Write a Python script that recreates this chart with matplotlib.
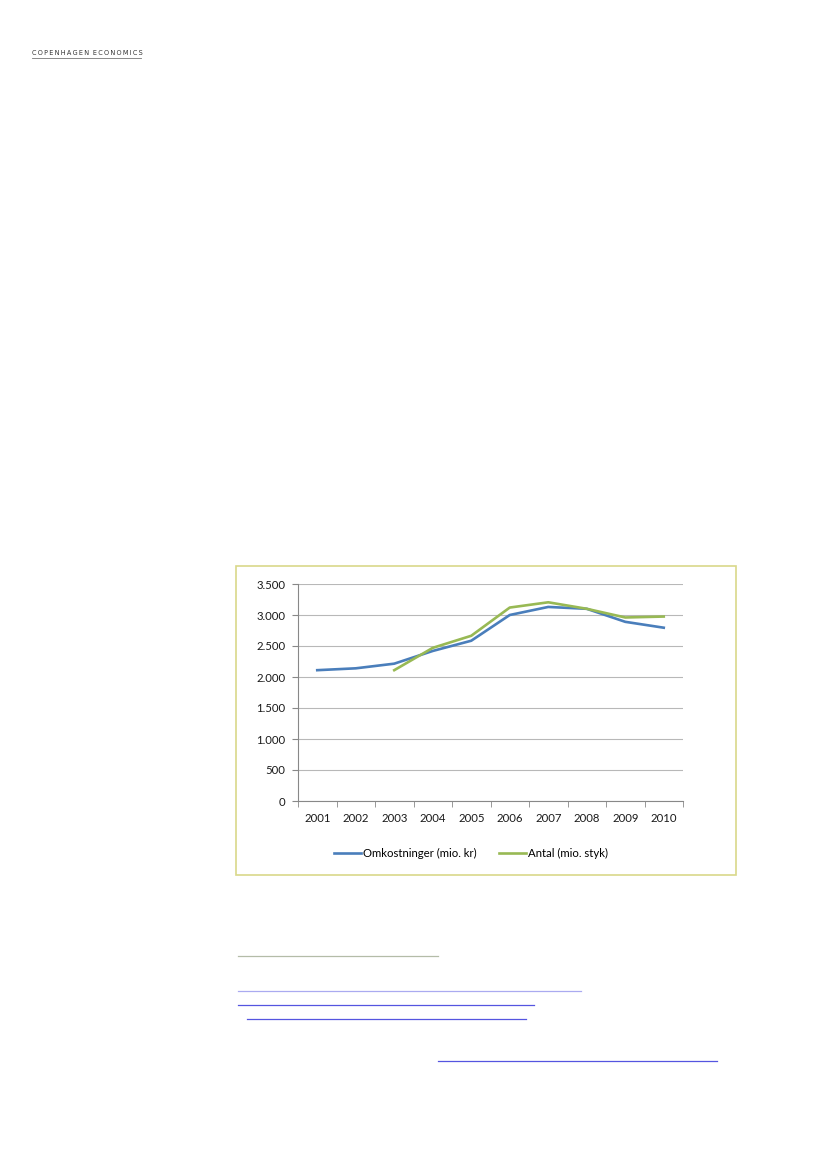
import matplotlib
matplotlib.use('Agg')
import matplotlib.pyplot as plt
from matplotlib.lines import Line2D
from matplotlib.patches import Rectangle

# data
years = ['2001', '2002', '2003', '2004', '2005', '2006', '2007', '2008', '2009', '2010']
omkostninger = [2110, 2140, 2215, 2420, 2585, 3000, 3130, 3100, 2890, 2795]
antal_years = ['2003', '2004', '2005', '2006', '2007', '2008', '2009', '2010']
antal = [2110, 2470, 2665, 3120, 3205, 3100, 2960, 2975]
yticks = [0, 500, 1000, 1500, 2000, 2500, 3000, 3500]

plt.rcParams['font.family'] = ['Lato', 'DejaVu Sans']

W, H = 827, 1169
fig = plt.figure(figsize=(W / 100, H / 100), dpi=100)

def fx(px):
    return px / W

def fy(py):
    return 1 - py / H

# page header (letter-spaced with thin spaces)
header = '\u2009'.join('COPENHAGEN') + '\u2009\u2009\u2009' + '\u2009'.join('ECONOMICS')
fig.text(fx(87), fy(53), header, fontsize=4.7,
         color='#333333', va='center', ha='center', family='DejaVu Sans')
fig.add_artist(Line2D([fx(32), fx(141)], [fy(58), fy(58)], color='#777777', lw=0.6))

# yellow frame around the chart
fig.add_artist(Rectangle((fx(236), fy(875)), fx(736) - fx(236), fy(566) - fy(875),
                         transform=fig.transFigure, fill=False, ec='#d9d88a', lw=1.2))

ax = fig.add_axes([fx(298), fy(801), fx(683) - fx(298), fy(584) - fy(801)])
xpos = list(range(len(years)))
apos = [years.index(y) for y in antal_years]

ax.plot(xpos, omkostninger, color='#4a7ebb', lw=1.9, solid_joinstyle='round')
ax.plot(apos, antal, color='#98b954', lw=1.9, solid_joinstyle='round')

ax.set_xlim(-0.5, len(years) - 0.5)
ax.set_ylim(0, 3500)
ax.set_yticks(yticks)
ax.set_yticklabels([f'{v:,}'.replace(',', '.') for v in yticks], fontsize=8.2, color='#1a1a1a')
ax.set_xticks(xpos)
ax.set_xticklabels(years, fontsize=8.2, color='#1a1a1a')
ax.set_xticks([i - 0.5 for i in range(len(years) + 1)], minor=True)
ax.tick_params(axis='x', which='major', length=0, pad=9)
ax.tick_params(axis='x', which='minor', length=4, color='#888888', direction='out')
ax.tick_params(axis='y', length=4, color='#888888', pad=5)
ax.grid(axis='y', color='#b8b8b8', lw=0.8)
ax.set_axisbelow(True)
for s in ['top', 'right']:
    ax.spines[s].set_visible(False)
for s in ['left', 'bottom']:
    ax.spines[s].set_color('#888888')
    ax.spines[s].set_linewidth(0.8)

handles = [Line2D([], [], color='#4a7ebb', lw=1.9), Line2D([], [], color='#98b954', lw=1.9)]
fig.legend(handles, ['Omkostninger (mio. kr)', 'Antal (mio. styk)'], loc='center',
           bbox_to_anchor=(fx(471), fy(853)), ncol=2, frameon=False, fontsize=8.2,
           handlelength=2.35, handletextpad=0.15, columnspacing=2.0)

# underlines of the text below the chart
for x0, x1, y, c in [(238, 438, 956, '#b4bca8'), (238, 581, 991, '#aaaaf0'),
                     (238, 534, 1005, '#5555e0'), (247, 526, 1019, '#5555e0'),
                     (438, 717, 1061, '#5555e0')]:
    fig.add_artist(Line2D([fx(x0), fx(x1)], [fy(y), fy(y)], color=c, lw=0.9))

fig.savefig('out.png', dpi=100)
